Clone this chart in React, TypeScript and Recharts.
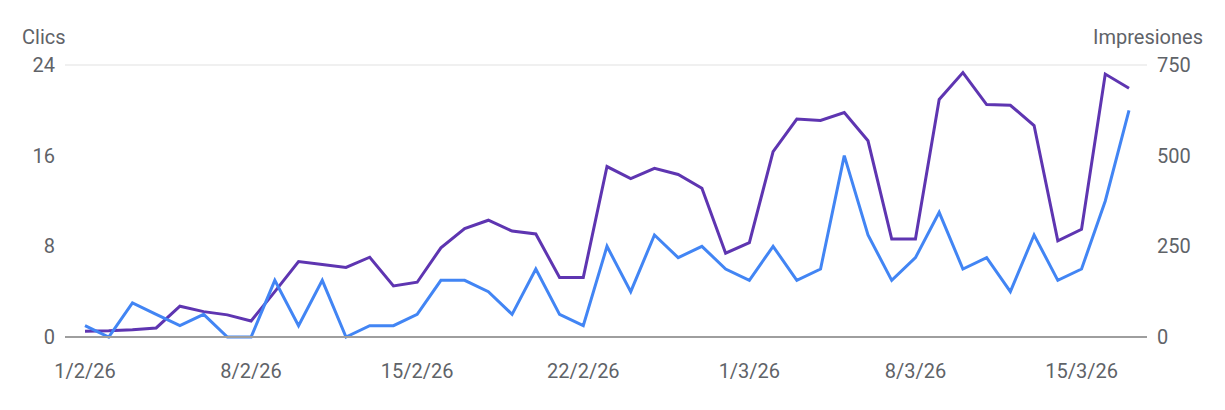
import React from "react";
import { LineChart, Line, XAxis, YAxis, CartesianGrid } from "recharts";

const dates = [
  "1/2/26", "2/2/26", "3/2/26", "4/2/26", "5/2/26", "6/2/26", "7/2/26",
  "8/2/26", "9/2/26", "10/2/26", "11/2/26", "12/2/26", "13/2/26", "14/2/26",
  "15/2/26", "16/2/26", "17/2/26", "18/2/26", "19/2/26", "20/2/26", "21/2/26",
  "22/2/26", "23/2/26", "24/2/26", "25/2/26", "26/2/26", "27/2/26", "28/2/26",
  "1/3/26", "2/3/26", "3/3/26", "4/3/26", "5/3/26", "6/3/26", "7/3/26",
  "8/3/26", "9/3/26", "10/3/26", "11/3/26", "12/3/26", "13/3/26", "14/3/26",
  "15/3/26", "16/3/26", "17/3/26",
];

const clicks = [
  1, 0, 3, 2, 1, 2, 0, 0, 5, 1, 5, 0, 1, 1, 2,
  5, 5, 4, 2, 6, 2, 1, 8, 4, 9, 7, 8, 6, 5, 8,
  5, 6, 16, 9, 5, 7, 11, 6, 7, 4, 9, 5, 6, 12, 20,
];

const impressions = [
  16, 17, 20, 25, 85, 70, 61, 44, 125, 208, 200, 192, 220, 141, 151,
  246, 299, 322, 292, 284, 164, 164, 470, 437, 465, 448, 410, 231, 260, 511,
  601, 597, 619, 541, 270, 270, 655, 729, 641, 639, 583, 265, 297, 725, 686,
];

const clickTicks = [0, 8, 16, 24];
const impressionTicks = [0, 250, 500, 750];

const data = dates.map((d, i) => ({
  date: d,
  clicks: clicks[i],
  impressions: impressions[i],
}));

const FONT = "Roboto, Arial, sans-serif";
const TEXT = "#5f6368";
const tickStyle = { fill: TEXT, fontSize: 20, fontFamily: FONT };

export default function App() {
  return (
    <div style={{ position: "relative", width: 1209, height: 394, fontFamily: FONT }}>
      <div
        style={{
          position: "absolute",
          left: 14,
          top: 19,
          fontSize: 20,
          lineHeight: "20px",
          color: TEXT,
        }}
      >
        Clics
      </div>
      <div
        style={{
          position: "absolute",
          right: 14,
          top: 19,
          fontSize: 20,
          lineHeight: "20px",
          color: TEXT,
          textAlign: "right",
        }}
      >
        Impresiones
      </div>
      <LineChart
        width={1209}
        height={394}
        data={data}
        margin={{ top: 57, right: 0, bottom: 25, left: 0 }}
      >
        <CartesianGrid vertical={false} stroke="#ebebeb" strokeWidth={1.5} />
        <XAxis
          dataKey="date"
          interval={6}
          tickSize={0}
          tickMargin={27}
          height={40}
          tick={tickStyle}
          axisLine={{ stroke: "#9e9e9e", strokeWidth: 2 }}
          padding={{ left: 20, right: 18 }}
        />
        <YAxis
          yAxisId="left"
          orientation="left"
          width={57}
          domain={[0, 24]}
          ticks={clickTicks}
          tickSize={0}
          tickMargin={10}
          axisLine={false}
          tick={tickStyle}
        />
        <YAxis
          yAxisId="right"
          orientation="right"
          width={70}
          domain={[0, 750]}
          ticks={impressionTicks}
          tickSize={0}
          tickMargin={10}
          axisLine={false}
          tick={tickStyle}
        />
        <Line
          yAxisId="right"
          type="linear"
          dataKey="impressions"
          stroke="#5e35b1"
          strokeWidth={3}
          dot={false}
          isAnimationActive={false}
        />
        <Line
          yAxisId="left"
          type="linear"
          dataKey="clicks"
          stroke="#4285f4"
          strokeWidth={3}
          dot={false}
          isAnimationActive={false}
        />
      </LineChart>
    </div>
  );
}
